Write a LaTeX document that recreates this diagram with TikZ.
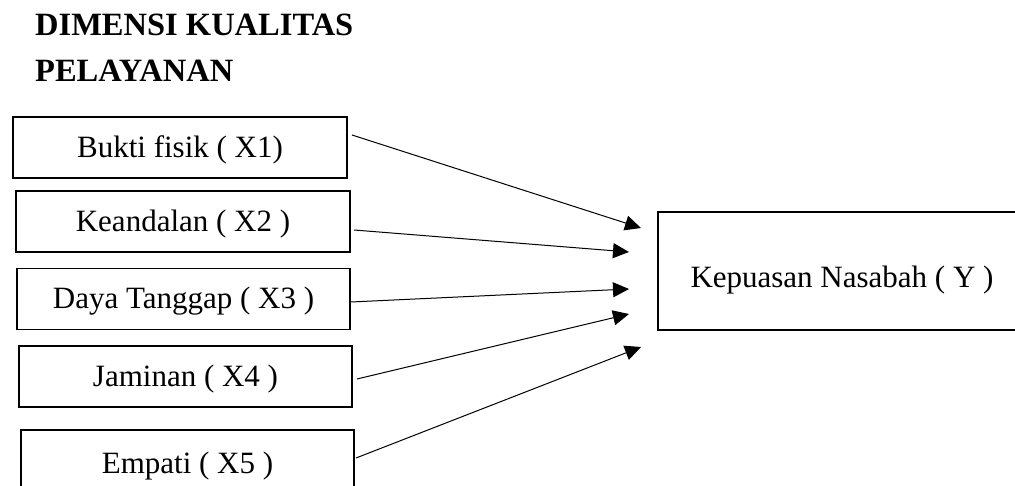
\documentclass[tikz,border=0pt]{standalone}
\usepackage{fontspec}
\setmainfont{Liberation Serif}
\usetikzlibrary{arrows.meta}
\tikzset{
  box/.style={draw=black, line width=1.5pt, inner sep=0pt, minimum height=61pt,
    text height=20pt, text depth=0pt, font=\fontsize{31}{36}\selectfont},
  arr/.style={line width=1pt, -{Triangle[length=16pt,width=15pt]}},
  title/.style={anchor=base west, inner sep=0pt, font=\fontsize{32.5}{46}\selectfont\bfseries}
}
\begin{document}
\begin{tikzpicture}[x=1pt,y=-1pt]
\useasboundingbox (0,0) rectangle (1015,486);
\clip (0,0) rectangle (1015,486);
\node[title] (t1) at (35,36) {DIMENSI KUALITAS};
\node[title] (t2) at (35,82) {PELAYANAN};
\node[box, minimum width=334pt] (b1) at (180,147.5) {Bukti fisik ( X1)};
\node[box, minimum width=334pt] (b2) at (183,221.5) {Keandalan ( X2 )};
\node[box, minimum width=333pt] (b3) at (183.5,299) {Daya Tanggap ( X3 )};
\node[box, minimum width=333pt] (b4) at (185.5,376.5) {Jaminan ( X4 )};
\node[box, minimum width=333pt, minimum height=66pt] (b5) at (187.5,463) {Empati ( X5 )};
\node[box, minimum width=368pt, minimum height=118pt, text height=34pt] (y) at (842,271) {Kepuasan Nasabah ( Y )};
\coordinate (s1) at (352,135); \coordinate (e1) at (641,228);
\coordinate (s2) at (354,230); \coordinate (e2) at (629,252);
\coordinate (s3) at (351,302); \coordinate (e3) at (629,289);
\coordinate (s4) at (357,379); \coordinate (e4) at (629,314);
\coordinate (s5) at (356,458); \coordinate (e5) at (641,347);
\draw[arr] (s1) -- (e1);
\draw[arr] (s2) -- (e2);
\draw[arr] (s3) -- (e3);
\draw[arr] (s4) -- (e4);
\draw[arr] (s5) -- (e5);
\end{tikzpicture}
\end{document}
